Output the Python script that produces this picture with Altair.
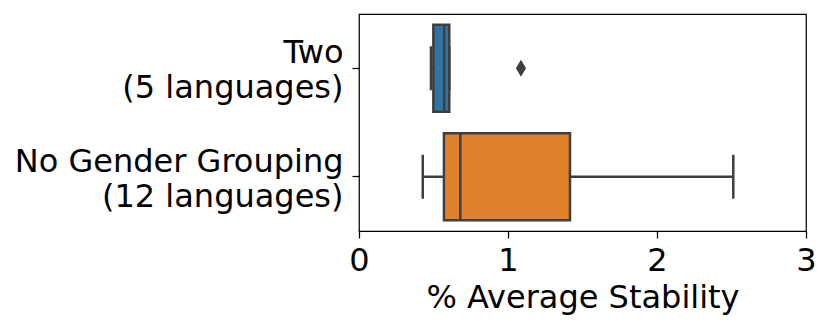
import altair as alt
import pandas as pd

# ---- data ----
categories = ["Two\n(5 languages)", "No Gender Grouping\n(12 languages)"]
whisker_low = [0.483, 0.428]
q1 = [0.499, 0.570]
median = [0.572, 0.680]
q3 = [0.606, 1.416]
whisker_high = [0.606, 2.512]
box_colors = ["#3274a1", "#e1812c"]

outlier_cat = ["Two\n(5 languages)"]
outlier_val = [1.087]

x_ticks = [0, 1, 2, 3]

df = pd.DataFrame({
    "cat": categories,
    "lo": whisker_low,
    "q1": q1,
    "med": median,
    "q3": q3,
    "hi": whisker_high,
    "color": box_colors,
})
out_df = pd.DataFrame({"cat": outlier_cat, "val": outlier_val})

LINE = "#3f3f3f"
FONT = "DejaVu Sans"
FS = 32

y_enc = alt.Y(
    "cat:N",
    sort=categories,
    scale=alt.Scale(paddingInner=0, paddingOuter=0),
    axis=alt.Axis(
        title=None,
        labelExpr="split(datum.label, '\\n')",
        labelFont=FONT,
        labelFontSize=FS,
        labelColor="black",
        labelLineHeight=35,
        labelPadding=9,
        labelOffset=-15,
        labelLimit=0,
        tickSize=7,
        tickColor="black",
        tickWidth=1.25,
        domain=False,
        minExtent=351,
        maxExtent=351,
    ),
)

x_scale = alt.Scale(domain=[0, 3], nice=False, zero=False)
x_axis = alt.Axis(
    values=x_ticks,
    title="% Average Stability",
    titleFont=FONT,
    titleFontSize=FS,
    titleFontWeight="normal",
    titleColor="black",
    titlePadding=6,
    labelFont=FONT,
    labelFontSize=FS,
    labelColor="black",
    labelPadding=7,
    tickSize=7,
    tickColor="black",
    tickWidth=1.25,
    domain=False,
    grid=False,
    labelFlush=False,
)

base = alt.Chart(df)

whisk_l = base.mark_rule(color=LINE, strokeWidth=2.5).encode(
    x=alt.X("lo:Q", scale=x_scale, axis=x_axis), x2="q1:Q", y=y_enc
)
whisk_r = base.mark_rule(color=LINE, strokeWidth=2.5).encode(
    x=alt.X("q3:Q", scale=x_scale, axis=x_axis), x2="hi:Q", y=y_enc
)
cap_l = base.mark_tick(color=LINE, thickness=2.5, size=44, orient="vertical", opacity=1).encode(
    x=alt.X("lo:Q", scale=x_scale, axis=x_axis), y=y_enc
)
cap_r = base.mark_tick(color=LINE, thickness=2.5, size=44, orient="vertical", opacity=1).encode(
    x=alt.X("hi:Q", scale=x_scale, axis=x_axis), y=y_enc
)
box = base.mark_bar(size=87, stroke=LINE, strokeWidth=2.5, opacity=1).encode(
    x=alt.X("q1:Q", scale=x_scale, axis=x_axis),
    x2="q3:Q",
    y=y_enc,
    color=alt.Color("color:N", scale=None, legend=None),
)
med = base.mark_tick(color=LINE, thickness=2.5, size=87, orient="vertical", opacity=1).encode(
    x=alt.X("med:Q", scale=x_scale, axis=x_axis), y=y_enc
)
outl = alt.Chart(out_df).mark_point(
    shape="M0,-1L0.6,0L0,1L-0.6,0Z", size=289, filled=True, color=LINE, opacity=1, strokeWidth=0
).encode(x=alt.X("val:Q", scale=x_scale, axis=x_axis), y=y_enc)

chart = (
    alt.layer(whisk_l, whisk_r, cap_l, cap_r, box, med, outl)
    .properties(width=447, height=217, padding={"left": 0, "top": 6, "right": 5, "bottom": 5})
    .configure_view(stroke="black", strokeWidth=1.25)
)

chart.save("out.html", embed_options={"renderer": "svg", "actions": False})
